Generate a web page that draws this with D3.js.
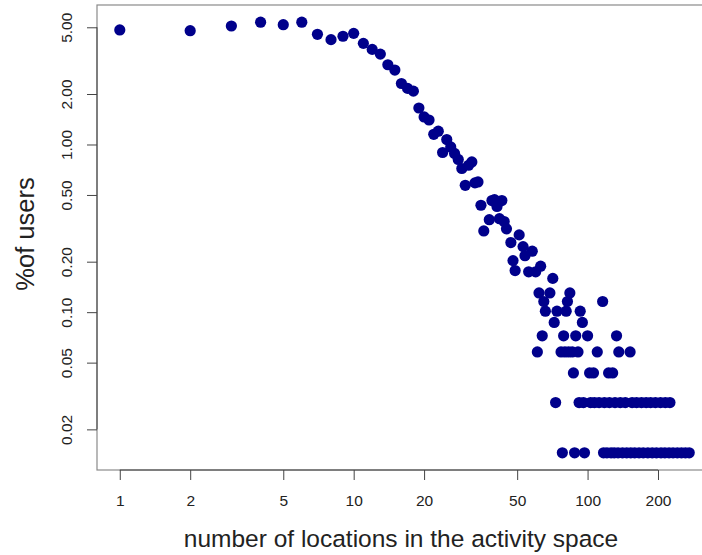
<!DOCTYPE html>
<html>
<head>
<meta charset="utf-8">
<script src="https://cdn.jsdelivr.net/npm/d3@7"></script>
<style>
    html, body { margin: 0; padding: 0; background: #fff; }
    svg { display: block; font-family: 'Liberation Sans', Arial, sans-serif; }
</style>
</head>
<body>
<div id="chart"></div>
<script>
// number of locations in the activity space (x) and share of users in % (y)
const locations = [
    1, 2, 3, 4, 5, 6, 7, 8, 9, 10,
    11, 12, 13, 14, 15, 16, 17, 18, 19, 20,
    21, 22, 23, 24, 25, 26, 27, 28, 29, 30,
    31, 32, 33, 34, 35, 36, 38, 39, 40, 41,
    42, 43, 44, 45, 47, 48, 49, 51, 53, 54,
    56, 58, 60, 61, 62, 63, 64, 65, 66, 69,
    71, 72, 73, 74, 77, 78, 79, 80, 81, 82,
    83, 84, 86, 87, 88, 89, 91, 92, 93, 95,
    96, 97, 100, 102, 103, 106, 107, 110, 112, 116,
    117, 118, 121, 123, 124, 126, 128, 130, 131, 133,
    135, 136, 138, 141, 145, 147, 152, 153, 155, 159,
    162, 166, 170, 173, 178, 181, 186, 189, 195, 197,
    205, 206, 214, 215, 223, 225, 232, 242, 252, 262,
    272
];
const pctUsers = [
    4.82, 4.77, 5.09, 5.36, 5.18, 5.36, 4.54, 4.22, 4.42, 4.60,
    4.01, 3.69, 3.46, 2.99, 2.78, 2.31, 2.16, 2.08, 1.65, 1.46,
    1.40, 1.15, 1.20, 0.896, 1.07, 0.967, 0.884, 0.814, 0.719, 0.571,
    0.752, 0.787, 0.590, 0.598, 0.434, 0.305, 0.356, 0.463, 0.469, 0.427,
    0.361, 0.463, 0.347, 0.314, 0.260, 0.203, 0.177, 0.289, 0.246, 0.217,
    0.174, 0.231, 0.174, 0.0579, 0.1302, 0.188, 0.0723, 0.1158, 0.1013, 0.1302,
    0.159, 0.0868, 0.0289, 0.1013, 0.0579, 0.0145, 0.0723, 0.0579, 0.1013, 0.1158,
    0.0579, 0.1302, 0.0579, 0.0434, 0.0145, 0.0723, 0.0579, 0.0289, 0.1013, 0.0868,
    0.0289, 0.0145, 0.0723, 0.0434, 0.0289, 0.0434, 0.0289, 0.0579, 0.0289, 0.1158,
    0.0145, 0.0289, 0.0145, 0.0434, 0.0289, 0.0145, 0.0434, 0.0145, 0.0289, 0.0723,
    0.0145, 0.0579, 0.0289, 0.0145, 0.0289, 0.0145, 0.0579, 0.0145, 0.0289, 0.0145,
    0.0289, 0.0145, 0.0289, 0.0145, 0.0289, 0.0145, 0.0289, 0.0145, 0.0289, 0.0145,
    0.0289, 0.0145, 0.0145, 0.0289, 0.0145, 0.0289, 0.0145, 0.0145, 0.0145, 0.0145,
    0.0145
];
const xTicks = [1, 2, 5, 10, 20, 50, 100, 200];
const yTicks = [0.02, 0.05, 0.1, 0.2, 0.5, 1, 2, 5];

const size = {
    width: 702,
    height: 555,
    left: 97,
    right: 712,   // plot region runs a little past the window, like the original
    top: 5,
    bottom: 470
};

const points = locations.map((d, i) => ({ n: d, pct: pctUsers[i] }));

// log domain padded by 4% on each side (R style)
const padLog = (values) => {
    const lo = Math.log10(d3.min(values));
    const hi = Math.log10(d3.max(values));
    const pad = (hi - lo) * 0.04;
    return [Math.pow(10, lo - pad), Math.pow(10, hi + pad)];
};

const xScale = d3.scaleLog()
    .domain(padLog(locations))
    .range([size.left, size.right]);
const yScale = d3.scaleLog()
    .domain(padLog(pctUsers))
    .range([size.bottom, size.top]);

const svg = d3.select('#chart')
    .append('svg')
    .attr('width', size.width)
    .attr('height', size.height);

// plot box
svg.append('rect')
    .attr('x', size.left)
    .attr('y', size.top)
    .attr('width', size.right - size.left)
    .attr('height', size.bottom - size.top)
    .style('fill', 'none')
    .style('stroke', '#8a8a8a')
    .style('stroke-width', 1.2);

/** x axis **/
const xAxis = d3.axisBottom(xScale)
    .tickValues(xTicks)
    .tickFormat(d3.format('d'))
    .tickSize(10)
    .tickPadding(15)
    .tickSizeOuter(0);
const gx = svg.append('g')
    .attr('transform', 'translate(0,' + size.bottom + ')')
    .call(xAxis);
gx.select('.domain').remove();
gx.append('line')
    .attr('x1', xScale(xTicks[0]))
    .attr('x2', xScale(xTicks[xTicks.length - 1]))
    .style('stroke', '#444');
gx.selectAll('.tick line').style('stroke', '#444');
gx.selectAll('.tick text')
    .style('font-size', '15.5px')
    .style('fill', '#222');

/** y axis, labels parallel to the axis **/
const yAxis = d3.axisLeft(yScale)
    .tickValues(yTicks)
    .tickFormat(d3.format('.2f'))
    .tickSize(10)
    .tickSizeOuter(0);
const gy = svg.append('g')
    .attr('transform', 'translate(' + size.left + ',0)')
    .call(yAxis);
gy.select('.domain').remove();
gy.append('line')
    .attr('y1', yScale(yTicks[0]))
    .attr('y2', yScale(yTicks[yTicks.length - 1]))
    .style('stroke', '#444');
gy.selectAll('.tick line').style('stroke', '#444');
gy.selectAll('.tick text')
    .attr('x', 0)
    .attr('dy', 0)
    .attr('transform', 'translate(-25,0) rotate(-90)')
    .attr('text-anchor', 'middle')
    .style('font-size', '15.5px')
    .style('fill', '#222');

// axis titles
svg.append('text')
    .attr('x', 401)
    .attr('y', 547)
    .attr('text-anchor', 'middle')
    .style('font-size', '24.5px')
    .style('fill', '#222')
    .text('number of locations in the activity space');
svg.append('text')
    .attr('transform', 'translate(34,234) rotate(-90)')
    .attr('text-anchor', 'middle')
    .style('font-size', '25.5px')
    .style('fill', '#222')
    .text('%of users');

// the points
svg.append('g')
    .selectAll('circle')
    .data(points)
    .enter()
    .append('circle')
    .attr('cx', d => xScale(d.n))
    .attr('cy', d => yScale(d.pct))
    .attr('r', 5.6)
    .style('fill', '#00008b');
</script>
</body>
</html>
